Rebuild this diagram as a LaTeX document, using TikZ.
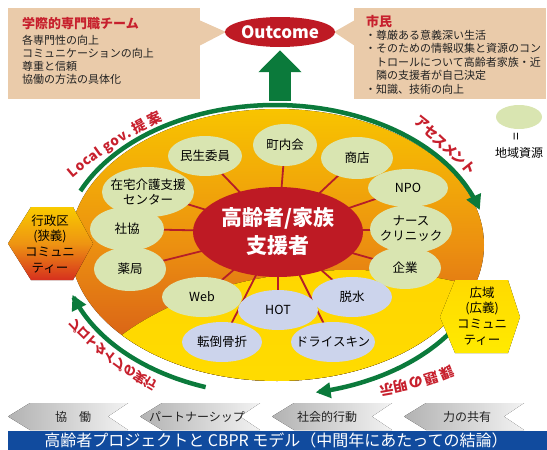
\documentclass[tikz,border=0pt]{standalone}
\usepackage{fontspec}
\setmainfont{Noto Sans CJK JP}
\usetikzlibrary{shapes.geometric,arrows.meta,backgrounds}
\definecolor{boxtan}{HTML}{EACBAA}
\definecolor{titlered}{HTML}{C7202D}
\definecolor{darkred}{HTML}{BE1A24}
\definecolor{cyclegreen}{HTML}{0B7A3B}
\definecolor{bubgreen}{HTML}{D9E5B1}
\definecolor{bubblue}{HTML}{CCD4EC}
\definecolor{barblue}{HTML}{114B9E}
\definecolor{spokered}{HTML}{B51E28}
\definecolor{orangetop}{HTML}{F8C400}
\definecolor{orangemid}{HTML}{EC9010}
\definecolor{orangebot}{HTML}{D2501A}
\definecolor{yeltop}{HTML}{FFD600}
\definecolor{yelbot}{HTML}{FFE600}
\definecolor{hexyel}{HTML}{F9CA00}
\definecolor{hexorange}{HTML}{EE9412}
\definecolor{hexred}{HTML}{D6301E}
\definecolor{hextwotop}{HTML}{FFDA00}
\definecolor{hextwobot}{HTML}{FFEA00}
\definecolor{inkgray}{HTML}{222222}
\newcommand\fsz[2]{\fontsize{#1}{#2}\selectfont}
\begin{document}
\begin{tikzpicture}[x=1pt,y=-1pt,
  panel/.style={fill=boxtan, inner sep=0pt, anchor=north west},
  paneltitle/.style={text=titlered, font=\bfseries\fsz{13}{15}, anchor=west, inner sep=0pt},
  panelline/.style={text=inkgray, font=\fsz{11}{13}, anchor=west, inner sep=0pt},
  bub/.style={ellipse, fill=bubgreen, inner xsep=-8pt, inner ysep=-2pt, align=center, text=black, font=\fsz{12.5}{15}},
  bubb/.style={bub, fill=bubblue},
  coreshape/.style={ellipse, fill=darkred, text=white, align=center, inner sep=0pt, font=\bfseries\fsz{21}{28}},
  spokeline/.style={draw=spokered, line width=1.8pt},
  cyc/.style={draw=cyclegreen, line width=4.5pt, -{Triangle[length=15pt,width=15pt]}},
  uparrow/.style={draw=cyclegreen, line width=22pt, -{Triangle[length=22pt,width=42pt]}, shorten >=3pt},
  lbl/.style={text=titlered, font=\bfseries\fsz{14}{14}, inner sep=0pt, text height=10pt, text depth=0.5pt},
  latlbl/.style={lbl, font=\bfseries\fsz{13.5}{13.5}},
  mlbl/.style={lbl, font=\bfseries\fsz{12.5}{12.5}, text height=9.5pt, text depth=0.5pt},
  hextxt/.style={align=center, inner sep=0pt, text=black, font=\fsz{12.5}{15.7}},
  chev/.style={left color=black!30, right color=black!5},
  chevtxt/.style={text=inkgray, font=\fsz{12}{14}},
]
\useasboundingbox (0,0) rectangle (547,450);

% ---------- top panels ----------
\node[panel, minimum width=192pt, minimum height=91pt] (teambox) at (8,8) {};
\fill[boxtan] (199,20) -- (226,32) -- (199,46) -- cycle;
\node[panel, minimum width=192pt, minimum height=91pt] (citbox) at (354,8) {};
\fill[boxtan] (355,20) -- (334,32) -- (355,46) -- cycle;

\node[paneltitle] (t0) at (22,24) {学際的専門職チーム};
\node[panelline] (t1) at (22,40) {各専門性の向上};
\node[panelline] (t2) at (22,53) {コミュニケーションの向上};
\node[panelline] (t3) at (22,66) {尊重と信頼};
\node[panelline] (t4) at (22,79) {協働の方法の具体化};

\node[paneltitle] (c0) at (366,22) {市民};
\node[panelline] (c1) at (365,35) {・尊厳ある意義深い生活};
\node[panelline] (c2) at (365,48.5) {・そのための情報収集と資源のコン};
\node[panelline] (c3) at (376,62) {トロールについて高齢者家族・近};
\node[panelline] (c4) at (376,75.5) {隣の支援者が自己決定};
\node[panelline] (c5) at (365,89) {・知識、技術の向上};

% ---------- outcome ----------
\node[ellipse, fill=darkred, minimum width=110pt, minimum height=30pt, inner sep=0pt,
      text=white, font=\bfseries\fsz{17}{17}] (outcome) at (280,32) {Outcome};
\coordinate (upbase) at (280,101);
\draw[uparrow] (upbase) -- (outcome);

% ---------- bubbles ----------
\node[bub, minimum width=74pt, minimum height=40pt] (minsei) at (205,156) {民生委員};
\node[bub, minimum width=64pt, minimum height=42pt] (chonai) at (285,145) {町内会};
\node[bub, minimum width=72pt, minimum height=42pt] (shoten) at (357,158) {商店};
\node[bub, minimum width=80pt, minimum height=38pt] (npo) at (408,188) {NPO};
\node[bub, minimum width=82pt, minimum height=48pt] (nurse) at (411,229) {ナース\\クリニック};
\node[bub, minimum width=72pt, minimum height=42pt] (kigyo) at (405,268) {企業};
\node[bub, minimum width=92pt, minimum height=50pt] (zaitaku) at (148,192) {在宅介護支援\\センター};
\node[bub, minimum width=74pt, minimum height=44pt] (shakyo) at (127,229) {社協};
\node[bub, minimum width=72pt, minimum height=44pt] (yakkyoku) at (130,269) {薬局};
\node[bub, minimum width=80pt, minimum height=40pt] (web) at (202,297) {Web};
\node[bubb, minimum width=80pt, minimum height=40pt] (hot) at (278,310) {HOT};
\node[bubb, minimum width=80pt, minimum height=40pt] (dassui) at (352,297) {脱水};
\node[bubb, minimum width=80pt, minimum height=40pt] (tentou) at (222,342) {転倒骨折};
\node[bubb, minimum width=84pt, minimum height=40pt] (dry) at (333,342) {ドライスキン};

\node[coreshape, minimum width=170pt, minimum height=90pt] (core) at (278,232) {高齢者/家族\\支援者};

% ---------- background: big ellipse, yellow part, spokes ----------
\begin{pgfonlayer}{background}
  \fill[top color=orangetop, bottom color=orangebot, middle color=orangemid]
    (277,245) ellipse [x radius=207, y radius=136];
  \begin{scope}
    \clip (277,245) ellipse [x radius=207, y radius=136];
    \fill[top color=yeltop, bottom color=yelbot] (350,440) ellipse [x radius=290, y radius=170];
  \end{scope}
  \foreach \n in {minsei,chonai,shoten,npo,nurse,kigyo,zaitaku,shakyo,yakkyoku,web,hot,dassui,tentou,dry}
    \draw[spokeline] (core.center) -- (\n.center);
\end{pgfonlayer}

% ---------- legend ----------
\node[ellipse, fill=bubgreen, minimum width=46pt, minimum height=24pt, inner sep=0pt] (legend) at (519,117) {};
\node[rotate=90, font=\fsz{14}{14}, inner sep=0pt] (legendeq) at (518,137) {=};
\node[font=\fsz{12}{14}, inner sep=0pt] (legendtxt) at (519,153) {地域資源};

% ---------- cycle arrows ----------
\draw[cyc] plot[domain=156:16, samples=90] ({275+213*cos(\x)},{250-145*sin(\x)});
\draw[cyc] plot[domain=-30:-79, samples=50] ({275+213*cos(\x)},{250-145*sin(\x)});
\draw[cyc] plot[domain=-109:-162, samples=50] ({275+213*cos(\x)},{250-145*sin(\x)});

% ---------- hexagons ----------
\fill[top color=hexyel, bottom color=hexred, middle color=hexorange]
  (8,243.5) -- (31,207) -- (73,207) -- (93,243.5) -- (73,280) -- (31,280) -- cycle;
\node[hextxt] (lefthex) at (50,244) {行政区\\(狭義)\\コミュニ\\ティー};
\fill[top color=hextwotop, bottom color=hextwobot]
  (440,317) -- (455,280) -- (508,280) -- (520,317) -- (508,353) -- (455,353) -- cycle;
\node[hextxt] (righthex) at (482,316) {広域\\(広義)\\コミュニ\\ティー};

% ---------- arc labels ----------
\foreach \c/\px/\py/\r [count=\i] in {L/72.5/172.5/40, o/79.9/166.4/38.7, c/86.8/161/37.5,
   a/93.3/156/36.3, l/98.9/152/35.3, g/107.1/146.4/33.8, o/114.9/141.2/32.5,
   v/122.4/136.6/31.3, ./128.2/133.2/30.3}
  \node[latlbl, rotate=\r] (lg\i) at (\px,\py) {\c};
\foreach \c/\px/\py/\r [count=\i] in {提/139.4/127/28.4, 案/154.3/119.3/26}
  \node[lbl, rotate=\r] (lk\i) at (\px,\py) {\c};
\foreach \c/\px/\py/\r [count=\i] in {ア/422/123/-38, セ/430.5/132/-40.5, ス/440/141.5/-43,
   メ/449.5/150.5/-45.5, ン/458.5/159/-48, ト/469/168/-51}
  \node[lbl, rotate=\r] (as\i) at (\px,\py) {\c};
\foreach \c/\px/\py/\r [count=\i] in {課/447/373/202, 題/431/378/198, の/416/382/195,
   明/401/385.5/192, 示/386.5/389/190}
  \node[lbl, rotate=\r] (kd\i) at (\px,\py) {\c};
\foreach \c/\px/\py/\r [count=\i] in {プ/75/325/-46, ロ/83.5/333.5/-44.1, ト/92.2/341.7/-42.2,
   タ/101.2/349.6/-40.3, イ/110.5/357.2/-38.4, プ/120/364.5/-36.6, の/129.8/371.5/-34.7,
   実/139.8/378.2/-32.8, 行/150/384.5/-31}
  \node[mlbl, rotate=\r] (pt\i) at (\px,\py) {\raisebox{0.76em}{\scalebox{1}[-1]{\c}}};

% ---------- bottom row ----------
\foreach \L/\R [count=\i] in {8/128, 140/260, 272/392, 404/524}
  \fill[chev] (\L,416.5) -- (\L+22,403) -- (\R,403) -- (\R-20,416.5) -- (\R,430) -- (\L+22,430) -- cycle;
\node[chevtxt] (s1) at (73,416.5) {協　働};
\node[chevtxt] (s2) at (197,416.5) {パートナーシップ};
\node[chevtxt] (s3) at (327,416.5) {社会的行動};
\node[chevtxt] (s4) at (467,416.5) {力の共有};

\node[fill=barblue, minimum width=539pt, minimum height=19.5pt, inner sep=0pt, anchor=north west] (bar) at (8,430.5) {};
\node[text=white, font=\fsz{16}{16}, inner sep=0pt] (bartxt) at (276,440.5) {高齢者プロジェクトと CBPR モデル（中間年にあたっての結論）};
\end{tikzpicture}
\end{document}
